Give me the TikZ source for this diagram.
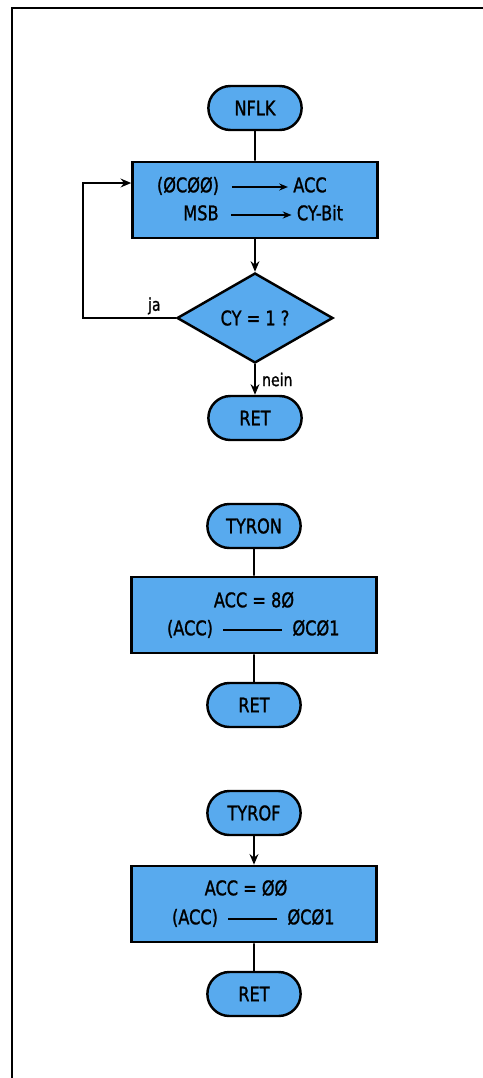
\documentclass[tikz,border=0pt]{standalone}
\usepackage{fontspec}
\setmainfont{DejaVu Sans}[FakeStretch=0.8, FakeBold=1.2]
\usepackage{tikz}
\usetikzlibrary{arrows.meta}
\usetikzlibrary{shapes.geometric,shapes.misc,positioning}
\definecolor{flowblue}{RGB}{88,170,238}
\tikzset{
    termbox/.style={
        rounded rectangle,
        draw=black,
        line width=1.4pt,
        fill=flowblue,
        minimum width=2.1cm,
        minimum height=0.88cm,
        font=\fontsize{11.5}{13}\selectfont
    },
    procbox/.style={
        rectangle,
        draw=black,
        line width=1.5pt,
        fill=flowblue,
        minimum width=4.9cm,
        minimum height=1.52cm
    },
    decbox/.style={
        diamond,
        draw=black,
        line width=1.4pt,
        fill=flowblue,
        aspect=1.73,
        inner sep=0pt,
        minimum width=3.12cm,
        minimum height=1.8cm,
        font=\fontsize{11.5}{13}\selectfont
    },
    boxtext/.style={
        inner sep=0pt,
        text height=0.75em,
        text depth=0.15em,
        font=\fontsize{11.5}{13}\selectfont
    },
    smalltext/.style={
        inner sep=1.5pt,
        font=\fontsize{10}{12}\selectfont
    },
    % Verbindungen zwischen den Bloecken
    flowline/.style={
        line width=1.1pt,
        black
    },
    flowarrow/.style={
        line width=1.1pt,
        black,
        -{Stealth[length=6pt, width=5pt]}
    },
    textarrow/.style={
        line width=0.9pt,
        black,
        -{Stealth[length=5pt, width=4pt]},
        shorten <=0.25cm,
        shorten >=0.1cm
    },
    textline/.style={
        line width=0.9pt,
        black,
        shorten <=0.2cm,
        shorten >=0.2cm
    }
}

\begin{document}
\begin{tikzpicture}[x=0.02cm, y=-0.02cm]
        \useasboundingbox (0,0) rectangle (483,1078);
        \draw[line width=1.4pt] (12,1078) -- (12,8) -- (483,8);

        \node[termbox] (nflk) at (255,108) {NFLK};
        \node[procbox] (move) at (255,200) {};
        \node[boxtext] (srcaddr) at (188,187) {(ØCØØ)};
        \node[boxtext] (accdst) at (310,187) {ACC};
        \node[boxtext] (msb) at (201,215) {MSB};
        \node[boxtext] (cybit) at (320,215) {CY-Bit};
        \node[decbox] (check) at (255,318) {CY = 1 ?};
        \node[termbox] (ret1) at (255,418) {RET};

        \draw[textarrow] (srcaddr) -- (accdst);
        \draw[textarrow] (msb) -- (cybit);
        \draw[flowline] (nflk) -- (move);
        \draw[flowarrow] (move) -- (check);
        \draw[flowarrow] (check) -- node[right=2pt, smalltext] (no) {nein} (ret1);
        \draw[flowarrow] (check.west) -- node[above, pos=0.23, smalltext] (yes) {ja} ++(-93,0) |- ([yshift=0.34cm]move.west);

        \node[termbox] (tyron) at (254,526) {TYRON};
        \node[procbox] (setbyte) at (254,615) {};
        \node[boxtext] (acceq) at (254,602) {ACC = 8Ø};
        \node[boxtext] (accval) at (190,630) {(ACC)};
        \node[boxtext] (portaddr) at (316,630) {ØCØ1};
        \node[termbox] (ret2) at (254,705) {RET};

        \draw[textline] (accval) -- (portaddr);
        \draw[flowline] (tyron) -- (setbyte);
        \draw[flowline] (setbyte) -- (ret2);

        \node[termbox] (tyrof) at (254,813) {TYROF};
        \node[procbox] (clrbyte) at (254,904) {};
        \node[boxtext] (acczero) at (246,890) {ACC = ØØ};
        \node[boxtext] (accvaltwo) at (195,919) {(ACC)};
        \node[boxtext] (portaddrtwo) at (311,919) {ØCØ1};
        \node[termbox] (ret3) at (254,994) {RET};

        \draw[textline] (accvaltwo) -- (portaddrtwo);
        \draw[flowarrow] (tyrof) -- (clrbyte);
        \draw[flowline] (clrbyte) -- (ret3);
\end{tikzpicture}
\end{document}
